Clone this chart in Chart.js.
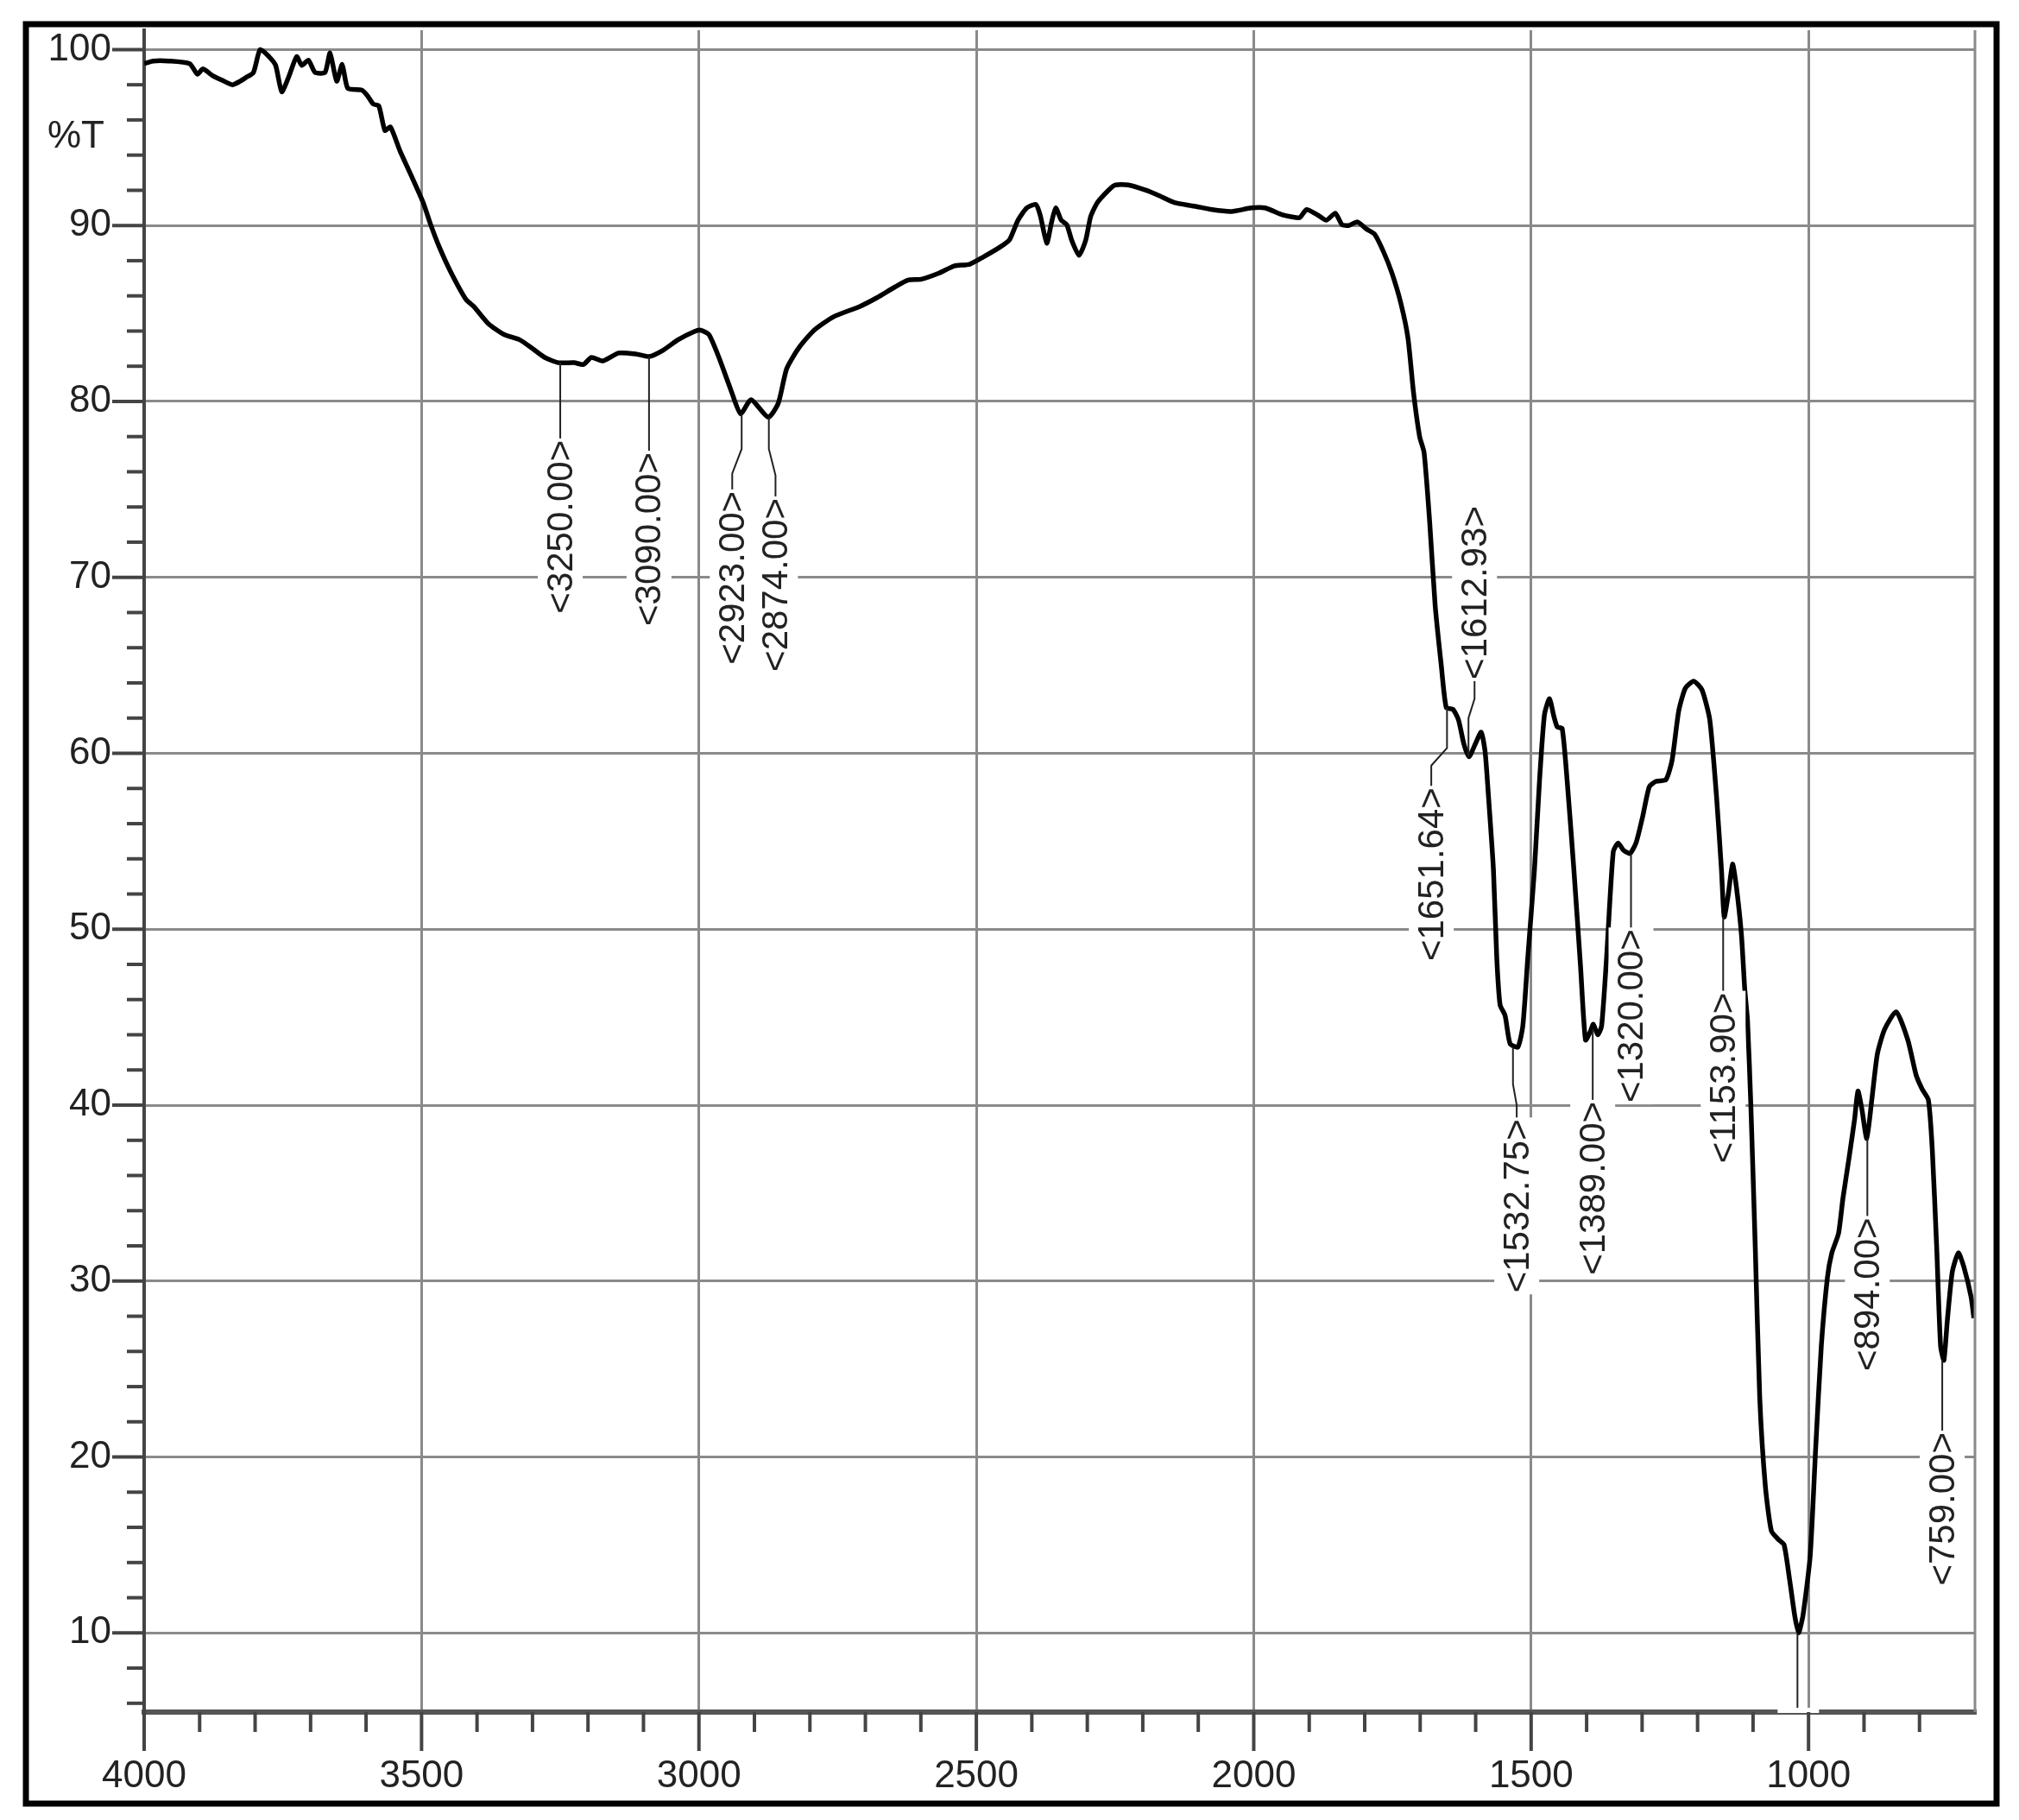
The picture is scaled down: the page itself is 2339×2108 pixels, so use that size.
<!DOCTYPE html>
<html>
<head>
<meta charset="utf-8">
<title>IR spectrum</title>
<script src="https://cdn.jsdelivr.net/npm/chart.js@4.4.1/dist/chart.umd.min.js"></script>
<style>
  html, body { margin: 0; padding: 0; background: #fff; }
  #wrap { width: 2339px; height: 2108px; }
</style>
</head>
<body>
<div id="wrap"><canvas id="irChart" width="2339" height="2108"></canvas></div>
<script>
// spectrum: wavenumber (cm-1) -> %T
const wavenumbers = [
  4000, 3984, 3956, 3918, 3904, 3894, 3876, 3859, 3841, 3827, 3817, 3803, 3791, 3775, 3763, 3752,
  3740, 3725, 3716, 3704, 3692, 3674, 3665, 3653, 3643, 3633, 3608, 3598, 3587, 3577, 3566, 3556,
  3539, 3518, 3497, 3483, 3469, 3448, 3420, 3406, 3379, 3351, 3323, 3302, 3278, 3253, 3225, 3208,
  3194, 3173, 3145, 3114, 3090, 3065, 3038, 3010, 2997, 2982, 2964, 2943, 2925, 2906, 2875, 2857,
  2842, 2821, 2794, 2758, 2710, 2679, 2647, 2623, 2599, 2567, 2540, 2512, 2488, 2456, 2440, 2425,
  2409, 2393, 2385, 2373, 2365, 2357, 2347, 2337, 2328, 2315, 2303, 2294, 2282, 2262, 2250, 2226,
  2194, 2171, 2143, 2107, 2075, 2040, 2004, 1980, 1948, 1933, 1917, 1905, 1885, 1869, 1853, 1841,
  1829, 1813, 1797, 1782, 1766, 1751, 1735, 1722, 1712, 1701, 1693, 1683, 1673, 1662, 1653, 1641,
  1631, 1621, 1612, 1601, 1590, 1583, 1577, 1568, 1562, 1556, 1547, 1538, 1524, 1515, 1506, 1494,
  1485, 1476, 1467, 1459, 1453, 1444, 1435, 1423, 1411, 1402, 1393, 1388, 1380, 1373, 1364, 1352,
  1343, 1334, 1322, 1311, 1299, 1287, 1275, 1257, 1246, 1234, 1222, 1207, 1192, 1178, 1166, 1157,
  1152, 1145, 1137, 1130, 1121, 1115, 1110, 1104, 1096, 1088, 1078, 1067, 1054, 1044, 1034, 1025,
  1018, 1010, 997, 987, 977, 966, 958, 946, 938, 927, 917, 911, 904, 895, 886, 876,
  863, 842, 821, 806, 795, 784, 777, 769, 762, 756, 750, 741, 730, 720, 707, 702
];
const transmittance = [
  99.2, 99.35, 99.35, 99.2, 98.6, 98.9, 98.5, 98.25, 98.0, 98.2, 98.4, 98.7, 100.0, 99.6, 99.1, 97.6,
  98.4, 99.6, 99.1, 99.4, 98.7, 98.7, 99.8, 98.2, 99.15, 97.8, 97.7, 97.4, 96.9, 96.8, 95.4, 95.6,
  94.25, 92.8, 91.3, 90.0, 88.85, 87.4, 85.8, 85.4, 84.4, 83.8, 83.5, 83.05, 82.5, 82.2, 82.2, 82.1,
  82.5, 82.3, 82.75, 82.7, 82.55, 82.9, 83.5, 83.95, 84.05, 83.8, 82.5, 80.7, 79.3, 80.1, 79.1, 79.9,
  81.85, 83.0, 84.0, 84.8, 85.4, 85.9, 86.5, 86.9, 86.95, 87.3, 87.7, 87.8, 88.2, 88.8, 89.2, 90.3,
  91.0, 91.2, 90.6, 89.0, 90.1, 91.0, 90.3, 90.05, 89.15, 88.3, 89.15, 90.5, 91.3, 92.0, 92.3, 92.3,
  92.0, 91.7, 91.3, 91.1, 90.9, 90.8, 91.0, 91.0, 90.6, 90.5, 90.45, 90.9, 90.6, 90.3, 90.7, 90.05,
  90.0, 90.2, 89.8, 89.5, 88.5, 87.3, 85.6, 83.6, 80.5, 78.0, 77.1, 73.2, 68.4, 65.0, 62.6, 62.5,
  61.9, 60.5, 59.8, 60.5, 61.2, 60.1, 57.6, 53.4, 48.4, 45.7, 45.1, 43.5, 43.3, 44.5, 48.4, 53.4,
  58.4, 62.2, 63.1, 62.1, 61.5, 61.4, 58.4, 53.4, 47.9, 43.7, 44.2, 44.6, 44.0, 44.5, 48.4, 54.4,
  54.9, 54.5, 54.3, 54.9, 56.4, 58.1, 58.4, 58.5, 59.6, 62.4, 63.7, 64.1, 63.6, 61.9, 57.6, 53.4,
  50.7, 51.9, 53.7, 52.4, 49.7, 46.6, 44.8, 40.0, 31.9, 23.4, 18.4, 15.8, 15.3, 15.0, 13.0, 11.0,
  10.0, 11.0, 14.4, 20.6, 26.3, 30.2, 31.6, 32.7, 34.7, 37.0, 39.2, 40.8, 39.8, 38.1, 40.3, 42.9,
  44.3, 45.3, 43.7, 41.7, 40.9, 40.3, 37.5, 31.9, 26.3, 25.5, 27.7, 30.5, 31.6, 30.8, 29.1, 27.9
];

const xTickLabels = [4000, 3500, 3000, 2500, 2000, 1500, 1000];
const yTickLabels = [10, 20, 30, 40, 50, 60, 70, 80, 90, 100];

// marked peaks
const peakWavenumbers = [3250, 3090, 2923, 2874, 1651.64, 1612.93, 1532.75, 1389, 1320, 1153.9, 894, 759];
const peakTransmittance = [82.2, 82.55, 79.3, 79.1, 62.6, 59.8, 43.3, 44.3, 54.3, 50.7, 38.1, 25.5];

// where each peak label sits (text centre wavenumber, end of text in %T, optional bend of leader)
const labelLayout = [
  { textWn: 3250, end: 77.8 },
  { textWn: 3090, end: 77.1 },
  { textWn: 2940, end: 74.9, bend: [77.3, 75.9] },
  { textWn: 2862, end: 74.5, bend: [77.3, 75.8] },
  { textWn: 1680, end: 58.05, bend: [60.3, 59.3] },
  { textWn: 1602, end: 64.2, bend: [62.0, 63.1], above: true },
  { textWn: 1526, end: 39.2, bend: [41.2, 40.0] },
  { textWn: 1389, end: 40.2 },
  { textWn: 1320, end: 50.0 },
  { textWn: 1153.9, end: 46.4 },
  { textWn: 894, end: 33.6 },
  { textWn: 759, end: 21.4 }
];
const clippedLeaderWn = 1020;

const tickFont = { family: "'Liberation Sans', Arial, sans-serif", size: 44 };
const labelFont = "42px 'Liberation Sans', Arial, sans-serif";

const peakMarks = {
  id: "peakMarks",
  afterDatasetsDraw(chart) {
    const { ctx, scales: { x, y }, chartArea } = chart;
    ctx.save();
    ctx.font = labelFont;
    ctx.strokeStyle = "#222";
    ctx.lineWidth = 2;

    peakWavenumbers.forEach((wn, i) => {
      const L = labelLayout[i];
      const text = "<" + wn.toFixed(2) + ">";
      const w = ctx.measureText(text).width;
      const px = x.getPixelForValue(wn);
      const py = y.getPixelForValue(peakTransmittance[i]);
      const tx = x.getPixelForValue(L.textWn);
      const endPx = y.getPixelForValue(L.end);

      ctx.beginPath();
      ctx.moveTo(px, py);
      if (L.bend) {
        ctx.lineTo(px, y.getPixelForValue(L.bend[0]));
        ctx.lineTo(tx, y.getPixelForValue(L.bend[1]));
      }
      ctx.lineTo(tx, endPx);
      ctx.stroke();

      // text reads bottom -> top
      const bottomPx = L.above ? endPx : endPx + w;
      ctx.save();
      ctx.translate(tx, bottomPx);
      ctx.rotate(-Math.PI / 2);
      ctx.fillStyle = "#fff";
      ctx.fillRect(-2, -26, w + 4, 52);
      ctx.fillStyle = "#222";
      ctx.textAlign = "left";
      ctx.textBaseline = "middle";
      ctx.fillText(text, 0, 2);
      ctx.restore();
    });

    // leader of the strongest band, its label falls below the plot
    const cx = x.getPixelForValue(clippedLeaderWn);
    ctx.beginPath();
    ctx.moveTo(cx, y.getPixelForValue(10));
    ctx.lineTo(cx, chartArea.bottom);
    ctx.stroke();
    ctx.fillStyle = "#fff";
    ctx.fillRect(cx - 23, chartArea.bottom - 5, 48, 6);
    ctx.restore();
  }
};

const axisDecor = {
  id: "axisDecor",
  afterDraw(chart) {
    const { ctx, scales: { x, y }, chartArea } = chart;
    ctx.save();
    ctx.strokeStyle = "#444";
    ctx.lineWidth = 4;

    // y ticks every 2 %T, long ones every 10
    for (let v = 6; v <= 100; v += 2) {
      const py = y.getPixelForValue(v);
      const len = v % 10 === 0 ? 37 : 20;
      ctx.beginPath();
      ctx.moveTo(chartArea.left - len, py);
      ctx.lineTo(chartArea.left, py);
      ctx.stroke();
    }
    // x ticks every 100 cm-1, long ones every 500
    for (let v = 800; v <= 4000; v += 100) {
      const px = x.getPixelForValue(v);
      const len = v % 500 === 0 ? 45 : 23;
      ctx.beginPath();
      ctx.moveTo(px, chartArea.bottom);
      ctx.lineTo(px, chartArea.bottom + len);
      ctx.stroke();
    }

    // right edge of the plot
    ctx.strokeStyle = "#8a8a8a";
    ctx.lineWidth = 3;
    ctx.beginPath();
    ctx.moveTo(chartArea.right, chartArea.top);
    ctx.lineTo(chartArea.right, chartArea.bottom);
    ctx.stroke();

    // %T
    ctx.fillStyle = "#222";
    ctx.font = "44px 'Liberation Sans', Arial, sans-serif";
    ctx.textAlign = "right";
    ctx.textBaseline = "middle";
    ctx.fillText("%T", chartArea.left - 46, y.getPixelForValue(95));

    // outer frame
    ctx.strokeStyle = "#000";
    ctx.lineWidth = 7;
    ctx.strokeRect(30, 28, 2283, 2061);
    ctx.restore();
  }
};

new Chart(document.getElementById("irChart"), {
  type: "line",
  data: {
    datasets: [
      {
        data: wavenumbers.map((w, i) => ({ x: w, y: transmittance[i] })),
        borderColor: "#000",
        borderWidth: 5.5,
        pointRadius: 0,
        tension: 0.2,
        fill: false
      }
    ]
  },
  options: {
    responsive: false,
    animation: false,
    devicePixelRatio: 1,
    layout: { padding: { left: 0, right: 51, top: 35, bottom: 0 } },
    plugins: { legend: { display: false }, tooltip: { enabled: false } },
    scales: {
      x: {
        type: "linear",
        reverse: true,
        min: 700,
        max: 4000,
        afterBuildTicks: (s) => { s.ticks = xTickLabels.map((v) => ({ value: v })); },
        afterFit: (s) => { s.height = 125; },
        grid: { color: "#8a8a8a", lineWidth: 3, drawTicks: true, tickLength: 48, tickColor: "rgba(0,0,0,0)" },
        border: { color: "#555", width: 6 },
        ticks: { font: tickFont, color: "#222", padding: 0, maxRotation: 0, autoSkip: false,
                 callback: (v) => String(v) }
      },
      y: {
        min: 5.5,
        max: 101.1,
        afterBuildTicks: (s) => { s.ticks = yTickLabels.map((v) => ({ value: v })); },
        afterFit: (s) => { s.width = 167; },
        grid: { color: "#8a8a8a", lineWidth: 3, drawTicks: true, tickLength: 38, tickColor: "rgba(0,0,0,0)" },
        border: { color: "#444", width: 4 },
        ticks: { font: tickFont, color: "#222", padding: 0, callback: (v) => String(v) }
      }
    }
  },
  plugins: [peakMarks, axisDecor]
});
</script>
</body>
</html>
